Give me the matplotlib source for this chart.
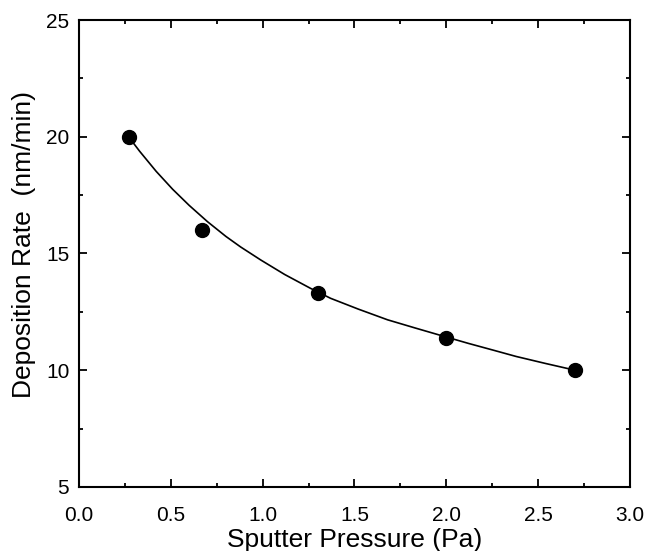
import matplotlib
matplotlib.use("Agg")
import matplotlib.pyplot as plt
from matplotlib.ticker import MultipleLocator, FormatStrFormatter

plt.rcParams['font.family'] = ['Liberation Sans', 'DejaVu Sans']

# measured points
pressure = [0.27, 0.67, 1.30, 2.00, 2.70]
rate = [20.0, 16.0, 13.3, 11.4, 10.0]

# fitted curve
fit_x = [0.27, 0.33, 0.42, 0.51, 0.60, 0.70, 0.80, 0.88, 0.99, 1.12, 1.26,
         1.37, 1.52, 1.68, 1.83, 1.97, 2.12, 2.26, 2.38, 2.54, 2.69]
fit_y = [20.00, 19.38, 18.52, 17.75, 17.06, 16.36, 15.73, 15.28, 14.72, 14.10, 13.51,
         13.08, 12.62, 12.16, 11.81, 11.49, 11.15, 10.85, 10.59, 10.29, 10.02]

fig = plt.figure(figsize=(6.47, 5.51), dpi=100)
ax = fig.add_axes([0.1221, 0.1162, 0.8516, 0.8475])

ax.plot(fit_x, fit_y, color='black', lw=1.2, zorder=2)
ax.plot(pressure, rate, 'o', color='black', ms=10, zorder=3)

ax.set_xlim(0, 3.0)
ax.set_ylim(5, 25)
ax.xaxis.set_major_locator(MultipleLocator(0.5))
ax.xaxis.set_minor_locator(MultipleLocator(0.25))
ax.yaxis.set_major_locator(MultipleLocator(5))
ax.yaxis.set_minor_locator(MultipleLocator(2.5))
ax.xaxis.set_major_formatter(FormatStrFormatter('%.1f'))

ax.tick_params(which='both', direction='in', top=True, right=True, width=1.3, labelsize=15)
ax.tick_params(which='major', length=6)
ax.tick_params(which='minor', length=3)
ax.tick_params(axis='x', which='major', pad=14)
ax.tick_params(axis='y', which='major', pad=7)
for s in ax.spines.values():
    s.set_linewidth(1.5)

ax.set_xlabel('Sputter Pressure (Pa)', fontsize=19)
ax.set_ylabel('Deposition Rate  (nm/min)', fontsize=19)
ax.xaxis.set_label_coords(0.5, -0.088)
ax.yaxis.set_label_coords(-0.078, 0.52)

fig.savefig('out.png', dpi=100)
